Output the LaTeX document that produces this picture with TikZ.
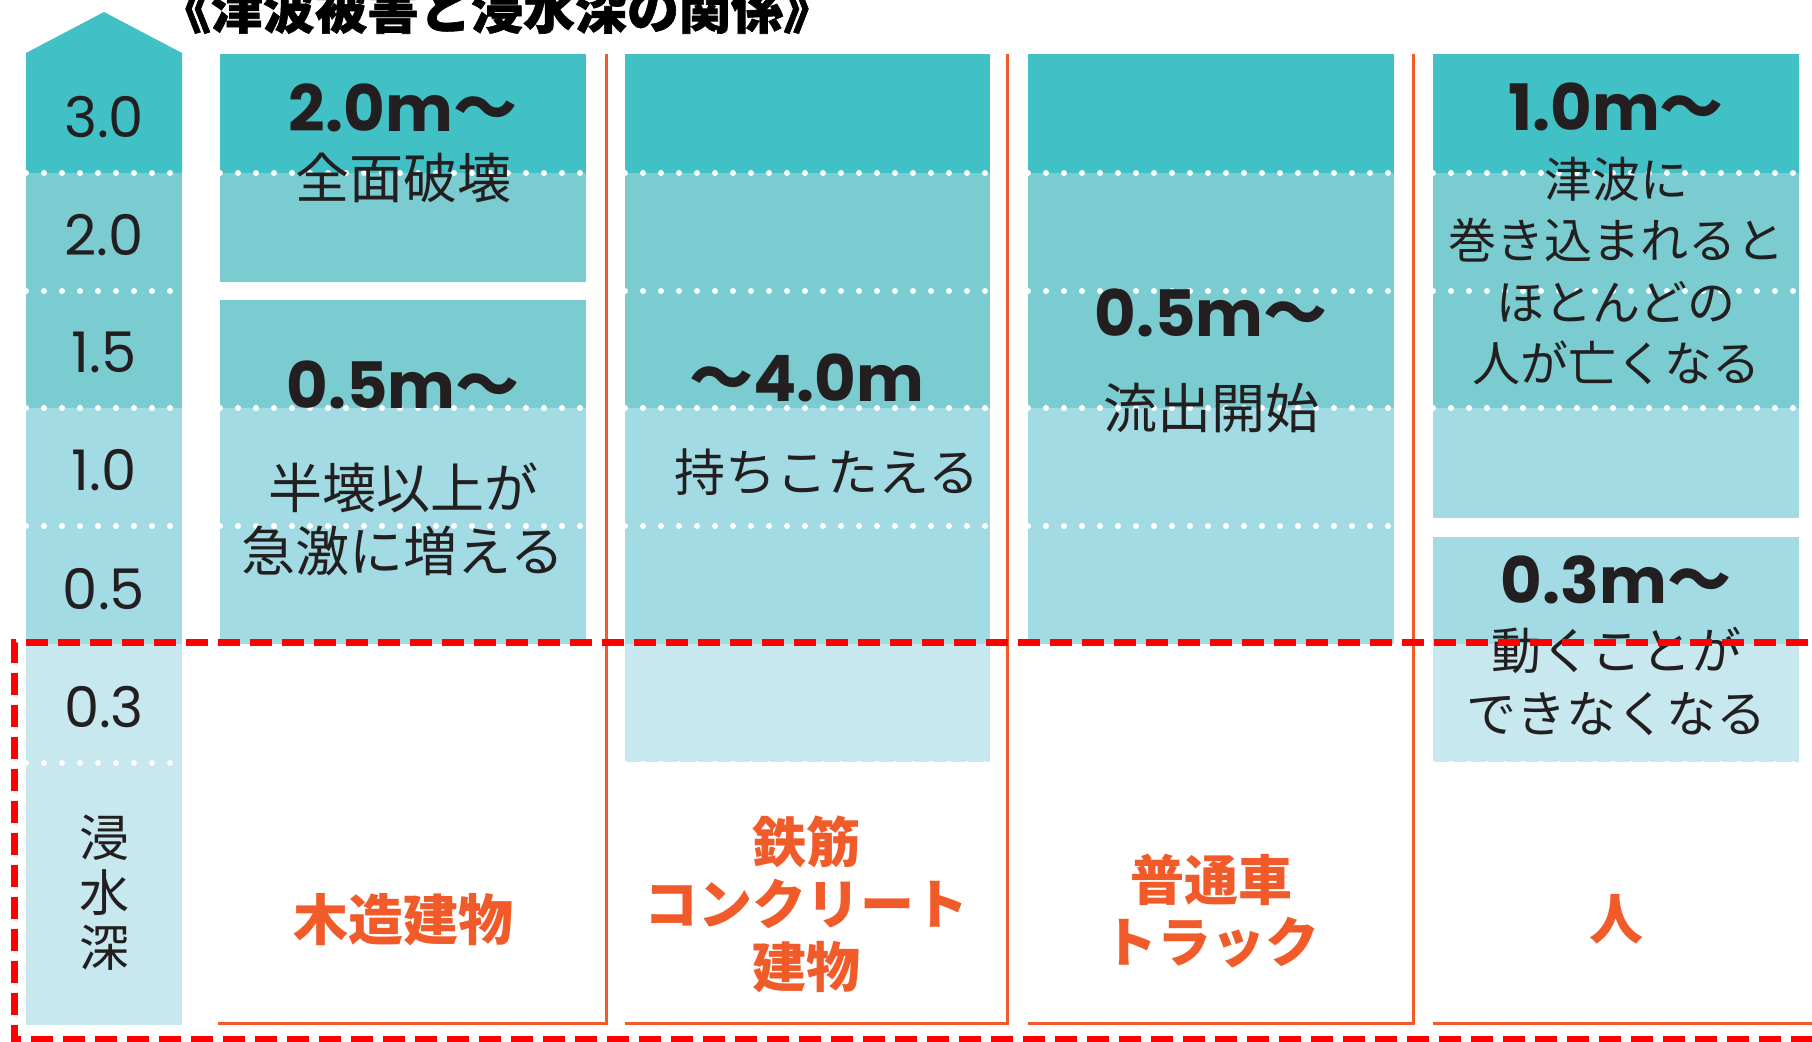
\documentclass[tikz,border=0pt]{standalone}
\usepackage{fontspec}
\setmainfont{Noto Sans CJK JP}
\newfontfamily\jpf{Noto Sans CJK JP}
\newfontfamily\jpt[BoldFeatures={FakeBold=1.2}]{Noto Sans CJK JP}
\newfontfamily\numf{Poppins}
\definecolor{cDark}{HTML}{41C0C6}
\definecolor{cMed}{HTML}{7ACCD0}
\definecolor{cLight}{HTML}{A2DBE3}
\definecolor{cLighter}{HTML}{C8E8F0}
\definecolor{cOrange}{HTML}{F15A29}
\definecolor{cRed}{HTML}{FF0000}
\definecolor{cText}{HTML}{231F20}
\begin{document}
\begin{tikzpicture}[x=0.5pt,y=-0.5pt,
  wdots/.style={white, line width=3pt, dash pattern=on 0pt off 9pt, line cap=round},
  oline/.style={cOrange, line width=1.5pt},
  reddash/.style={cRed, line width=3.5pt, dash pattern=on 11pt off 5pt},
  jtxt/.style 2 args={font=\jpf\fontsize{#1}{#2}\selectfont, text=cText, inner sep=0pt, align=center},
  jbold/.style 2 args={font=\jpf\bfseries\fontsize{#1}{#2}\selectfont, text=cOrange, inner sep=0pt, align=center},
  numb/.style={font=\numf\bfseries\fontsize{#1}{#1}\selectfont, text=cText, inner sep=0pt},
  axnum/.style={font=\numf\fontsize{#1}{#1}\selectfont, text=cText, inner sep=0pt},
  titlef/.style={font=\jpt\bfseries\fontsize{26pt}{28pt}\selectfont, text=black, inner sep=0pt}]
\useasboundingbox (0,0) rectangle (1812,1042);
\begin{scope}
\clip (0,0) rectangle (1812,1042);
\fill[white] (0,0) rectangle (1812,1042);

% ---- axis column ----
\fill[cDark] (26,53) -- (104,12) -- (182,53) -- (182,173) -- (26,173) -- cycle;
\fill[cMed] (26,173) rectangle (182,408);
\fill[cLight] (26,408) rectangle (182,644);
\fill[cLighter] (26,644) rectangle (182,1025);
\foreach \yy in {173,291,408,526,763} \draw[wdots] (26,\yy) -- (182,\yy);

% ---- column 1 ----
\fill[cDark] (220,54) rectangle (586,173);
\fill[cMed] (220,173) rectangle (586,282);
\fill[cMed] (220,300) rectangle (586,408);
\fill[cLight] (220,408) rectangle (586,644);
\foreach \yy in {173,408,526} \draw[wdots] (220,\yy) -- (586,\yy);

% ---- column 2 ----
\fill[cDark] (625,54) rectangle (990,173);
\fill[cMed] (625,173) rectangle (990,408);
\fill[cLight] (625,408) rectangle (990,644);
\fill[cLighter] (625,644) rectangle (990,762);
\foreach \yy in {173,291,408,526,764} \draw[wdots] (625,\yy) -- (990,\yy);

% ---- column 3 ----
\fill[cDark] (1028,54) rectangle (1394,173);
\fill[cMed] (1028,173) rectangle (1394,408);
\fill[cLight] (1028,408) rectangle (1394,644);
\foreach \yy in {173,291,408,526} \draw[wdots] (1028,\yy) -- (1394,\yy);

% ---- column 4 ----
\fill[cDark] (1433,54) rectangle (1799,173);
\fill[cMed] (1433,173) rectangle (1799,408);
\fill[cLight] (1433,408) rectangle (1799,518);
\fill[cLight] (1433,537) rectangle (1799,644);
\fill[cLighter] (1433,644) rectangle (1799,762);
\foreach \yy in {173,291,408,764} \draw[wdots] (1433,\yy) -- (1799,\yy);

% ---- orange frames ----
\draw[oline] (606,54) -- (606,1024) -- (218,1024);
\draw[oline] (1007,54) -- (1007,1024) -- (625,1024);
\draw[oline] (1413,54) -- (1413,1024) -- (1028,1024);
\draw[oline] (1812,1024) -- (1433,1024);

% ---- title ----
\node[titlef] (title) at (497,9) {《津波被害と浸水深の関係》};

% ---- axis labels ----
\node[axnum=28pt] (a30) at (104,117) {3.0};
\node[axnum=28pt] (a20) at (104,235) {2.0};
\node[axnum=28pt] (a15) at (104,352) {1.5};
\node[axnum=28pt] (a10) at (104,470) {1.0};
\node[axnum=28pt] (a05) at (104,589) {0.5};
\node[axnum=28pt] (a03) at (104,707) {0.3};
\node[jtxt={25pt}{27.5pt}] (axlab) at (104,893) {浸\\水\\深};

% ---- column 1 texts ----
\node[numb=32pt] (c1a) at (403,108) {2.0m{\jpf\bfseries ～}};
\node[jtxt={27pt}{31pt}] (c1b) at (403,178) {全面破壊};
\node[numb=32pt] (c1c) at (403,385) {0.5m{\jpf\bfseries ～}};
\node[jtxt={27pt}{31.5pt}] (c1d) at (403,519) {半壊以上が\\急激に増える};
\node[jbold={27.5pt}{31pt}] (c1lab) at (403,920) {木造建物};

% ---- column 2 texts ----
\node[numb=32pt] (c2a) at (807,378) {{\jpf\bfseries ～}4.0m};
\node[jtxt={25.5pt}{31pt}] (c2b) at (827,472) {持ちこたえる};
\node[jbold={27pt}{31.25pt}] (c2lab) at (806,904) {鉄筋\\コンクリート\\建物};

% ---- column 3 texts ----
\node[numb=32pt] (c3a) at (1211,313) {0.5m{\jpf\bfseries ～}};
\node[jtxt={27pt}{31pt}] (c3b) at (1211,408) {流出開始};
\node[jbold={27pt}{31pt}] (c3lab) at (1211,911) {普通車\\トラック};

% ---- column 4 texts ----
\node[numb=32pt] (c4a) at (1616,107) {1.0m{\jpf\bfseries ～}};
\node[jtxt={24pt}{30.8pt}] (c4b) at (1616,271) {津波に\\巻き込まれると\\ほとんどの\\人が亡くなる};
\node[numb=32pt] (c4c) at (1616,580) {0.3m{\jpf\bfseries ～}};
\node[jtxt={25pt}{31.5pt}] (c4d) at (1616,681) {動くことが\\できなくなる};
\node[jbold={27pt}{31pt}] (c4lab) at (1616,919) {人};

% ---- red dashed frame ----
\draw[reddash] (1840,643) -- (14,643) -- (14,1040) -- (1840,1040);
\end{scope}
\end{tikzpicture}
\end{document}
